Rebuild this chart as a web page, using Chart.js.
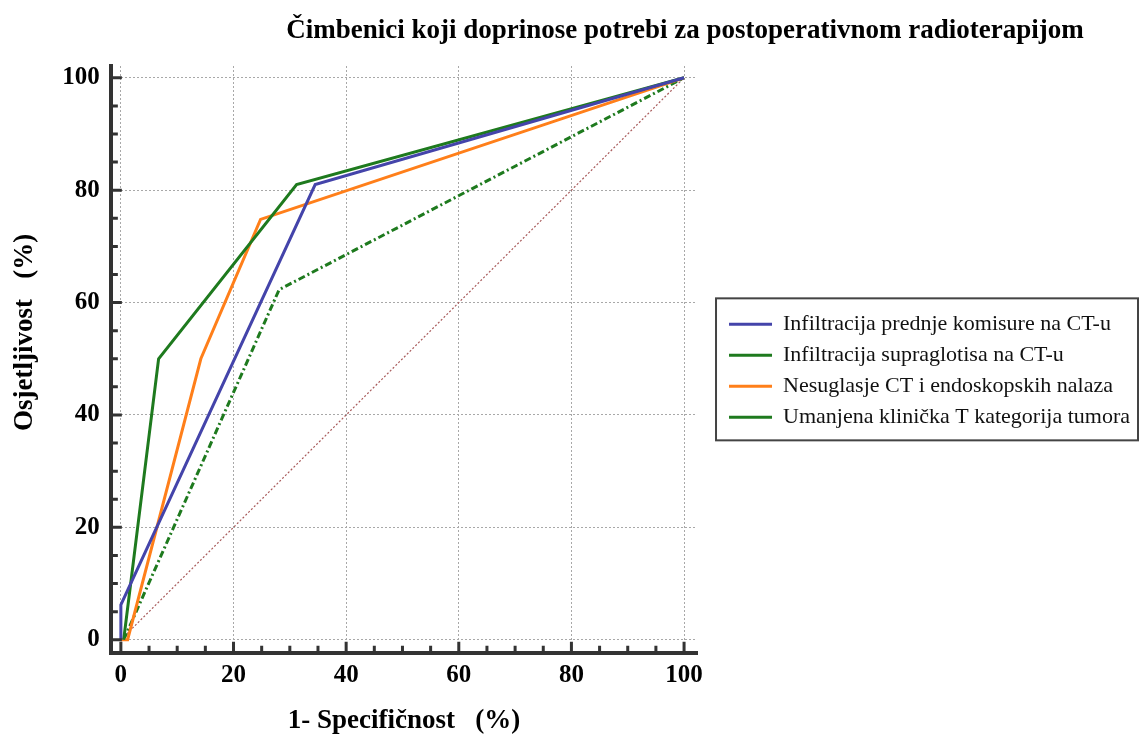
<!DOCTYPE html>
<html><head><meta charset="utf-8">
<script src="https://cdn.jsdelivr.net/npm/chart.js@4/dist/chart.umd.min.js"></script>
<style>html,body{margin:0;padding:0;background:#fff}#wrap{width:1140px;height:735px;position:relative}</style>
</head><body><div id="wrap"><canvas id="c"></canvas></div>
<script>
const chartTitle = 'Čimbenici koji doprinose potrebi za postoperativnom radioterapijom';
const xAxisTitle = '1- Specifičnost   (%)';
const yAxisTitle = '        Osjetljivost   (%)';
const seriesNames = [
  'Infiltracija prednje komisure na CT-u',
  'Infiltracija supraglotisa na CT-u',
  'Nesuglasje CT i endoskopskih nalaza',
  'Umanjena klinička T kategorija tumora'
];
const komisureX = [0, 0, 34.5, 100];
const komisureY = [0, 6.2, 81, 100];
const supraX = [0.5, 6.7, 31.2, 100];
const supraY = [0, 50, 81, 100];
const nesuglasjeX = [0, 1.2, 14.2, 24.8, 100];
const nesuglasjeY = [0, 0, 50, 74.8, 100];
const umanjenaX = [0.5, 28.1, 100];
const umanjenaY = [0, 62.3, 100];
const diagonalX = [0, 100];
const diagonalY = [0, 100];
const tickValues = [0, 20, 40, 60, 80, 100];
const minorTickValues = [0,5,10,15,20,25,30,35,40,45,50,55,60,65,70,75,80,85,90,95,100];

const pts = (xs, ys) => xs.map((x, i) => ({x: x, y: ys[i]}));
const serif = 'Liberation Serif';

const titlePlugin = {
  id: 'customTitle',
  afterDraw(chart) {
    const c = chart.ctx;
    c.save();
    c.font = 'bold 27px "Liberation Serif"';
    c.fillStyle = '#000';
    c.textAlign = 'center';
    c.textBaseline = 'alphabetic';
    c.fillText(chartTitle, 685, 38);
    c.restore();
  }
};

const innerTicks = {
  id: 'innerTicks',
  afterDraw(chart) {
    const c = chart.ctx, xs = chart.scales.x, ys = chart.scales.y, a = chart.chartArea;
    c.save();
    c.strokeStyle = '#333';
    c.lineWidth = 3;
    c.beginPath();
    minorTickValues.forEach(v => {
      const len = v % 20 === 0 ? 11 : 7;
      const px = xs.getPixelForValue(v);
      c.moveTo(px, a.bottom); c.lineTo(px, a.bottom - len);
      const py = ys.getPixelForValue(v);
      c.moveTo(a.left, py); c.lineTo(a.left + len, py);
    });
    c.stroke();
    c.restore();
  }
};

const legendBorder = {
  id: 'legendBorder',
  afterDraw(chart) {
    const lg = chart.legend, hb = lg.legendHitBoxes;
    if (!hb || !hb.length) return;
    const c = chart.ctx;
    const top = hb[0].top - 15;
    const last = hb[hb.length - 1];
    const bottom = last.top + last.height + 12;
    c.save();
    c.strokeStyle = '#444';
    c.lineWidth = 2;
    c.strokeRect(lg.left - 4, top, chart.width - lg.left + 2, bottom - top);
    c.restore();
  }
};

const tickFont = {family: serif, size: 25, weight: 'bold'};
const titleFont = {family: serif, size: 27, weight: 'bold', lineHeight: 1.05};

new Chart(document.getElementById('c'), {
  type: 'scatter',
  data: {
    datasets: [
      {label: seriesNames[0], data: pts(komisureX, komisureY), showLine: true, borderColor: '#4444aa', backgroundColor: '#4444aa', borderWidth: 3, pointRadius: 0},
      {label: seriesNames[1], data: pts(supraX, supraY), showLine: true, borderColor: '#1e7a1e', backgroundColor: '#1e7a1e', borderWidth: 3, pointRadius: 0},
      {label: seriesNames[2], data: pts(nesuglasjeX, nesuglasjeY), showLine: true, borderColor: '#ff7f1a', backgroundColor: '#ff7f1a', borderWidth: 3, pointRadius: 0},
      {label: seriesNames[3], data: pts(umanjenaX, umanjenaY), showLine: true, borderColor: '#1e7a1e', backgroundColor: '#1e7a1e', borderWidth: 3, borderDash: [7, 3, 2, 3], pointRadius: 0},
      {label: 'ref', data: pts(diagonalX, diagonalY), showLine: true, borderColor: '#a85a5a', borderWidth: 1.2, borderDash: [2, 2], pointRadius: 0}
    ]
  },
  options: {
    responsive: true,
    maintainAspectRatio: false,
    animation: false,
    layout: {padding: {top: 66, left: 0, right: 0, bottom: 0}},
    plugins: {
      title: {display: false},
      tooltip: {enabled: false},
      legend: {
        position: 'right',
        fullSize: false,
        maxWidth: 460,
        title: {display: true, text: ' ', padding: 0, font: {size: 19.2}},
        labels: {
          usePointStyle: true, pointStyle: 'line', pointStyleWidth: 43, boxHeight: 10,
          padding: 9, color: '#111', font: {family: serif, size: 22},
          filter: item => item.datasetIndex < 4
        }
      }
    },
    scales: {
      x: {
        type: 'linear', min: -1.78, max: 102.3,
        afterBuildTicks: s => { s.ticks = tickValues.map(v => ({value: v})); },
        ticks: {font: tickFont, color: '#000', padding: 8},
        grid: {color: '#a8a8a8', lineWidth: 1, drawTicks: false},
        border: {width: 4, color: '#333', dash: [2, 2]},
        title: {display: true, text: xAxisTitle, font: titleFont, color: '#000', padding: {top: 8, bottom: 0}}
      },
      y: {
        type: 'linear', min: -2.3, max: 102.1,
        afterBuildTicks: s => { s.ticks = tickValues.map(v => ({value: v})); },
        ticks: {font: tickFont, color: '#000', padding: 11},
        grid: {color: '#a8a8a8', lineWidth: 1, drawTicks: false},
        border: {width: 4, color: '#333', dash: [2, 2]},
        title: {display: true, text: yAxisTitle, font: titleFont, color: '#000', padding: {top: 11, bottom: 12}}
      },
      spacer: {
        type: 'linear', position: 'right', display: true,
        ticks: {display: false}, grid: {display: false, drawTicks: false}, border: {display: false},
        afterFit: s => { s.width = 23; }
      }
    }
  },
  plugins: [titlePlugin, innerTicks, legendBorder]
});
</script>
</body></html>
